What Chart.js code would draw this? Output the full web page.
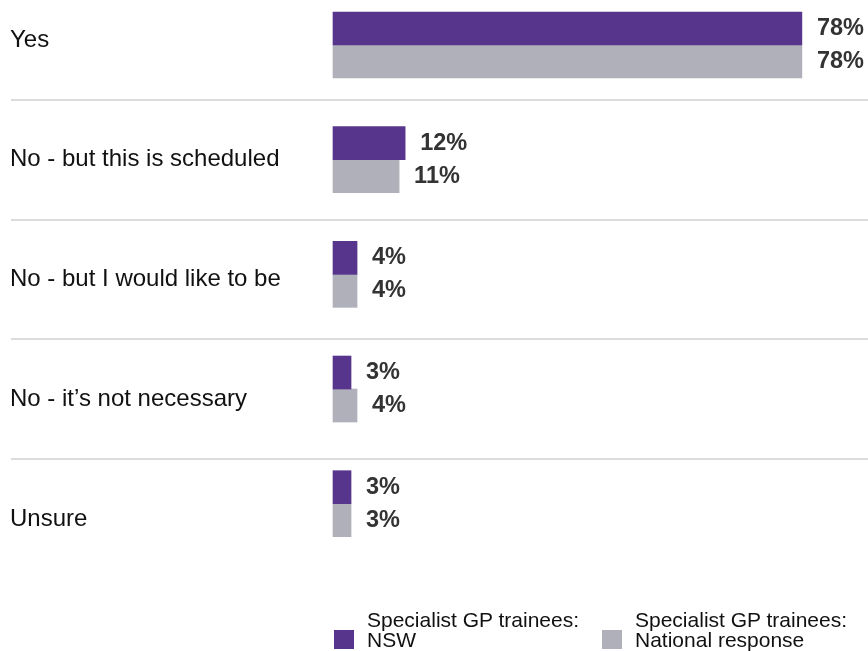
<!DOCTYPE html>
<html>
<head>
<meta charset="utf-8">
<script src="https://cdn.jsdelivr.net/npm/chart.js@4.4.1/dist/chart.umd.min.js"></script>
<style>
  body { margin: 0; background: #fff; }
  #wrap { position: relative; width: 868px; height: 651px; overflow: hidden; }
  #chart { position: absolute; left: 0; top: 0; }
  #legend { position: absolute; left: 334px; top: 610px; display: flex;
    font: 21px Arial, "Liberation Sans", sans-serif; line-height: 20px; color: #111; }
  .item { display: flex; align-items: flex-end; }
  .item:first-child { width: 268px; }
  .box { width: 20px; height: 19px; margin-right: 13px; margin-bottom: 1px; flex: none; }
</style>
</head>
<body>
<div id="wrap">
  <canvas id="chart" width="868" height="651"></canvas>
  <div id="legend"></div>
</div>
<script>
// answers + the two response groups
const categories = ['Yes', 'No - but this is scheduled', 'No - but I would like to be', 'No - it\u2019s not necessary', 'Unsure'];
const nswValues = [78, 12, 4, 3, 3];
const nationalValues = [78, 11, 4, 4, 3];
const seriesNames = [['Specialist GP trainees:', 'NSW'], ['Specialist GP trainees:', 'National response']];
const seriesColors = ['#58358c', '#b0b0bb'];

const FONT = 'Arial, "Liberation Sans", sans-serif';

// percent labels to the right of each bar
const valueLabels = {
  id: 'valueLabels',
  afterDatasetsDraw(chart) {
    const ctx = chart.ctx;
    ctx.save();
    ctx.font = 'bold 23.5px ' + FONT;
    ctx.fillStyle = '#333';
    ctx.textBaseline = 'middle';
    chart.data.datasets.forEach((ds, d) => {
      chart.getDatasetMeta(d).data.forEach((bar, i) => {
        ctx.fillText(ds.data[i].x + '%', bar.x + 15, bar.y);
      });
    });
    ctx.restore();
  }
};

const toPoints = (vals) => vals.map((v, i) => ({ x: v, y: i }));

const chart = new Chart(document.getElementById('chart'), {
  type: 'bar',
  data: {
    datasets: [
      { label: seriesNames[0].join(' '), data: toPoints(nswValues), backgroundColor: seriesColors[0] },
      { label: seriesNames[1].join(' '), data: toPoints(nationalValues), backgroundColor: seriesColors[1] }
    ]
  },
  options: {
    indexAxis: 'y',
    responsive: false,
    animation: false,
    clip: false,
    barThickness: 33,
    layout: { padding: { left: 10, right: 0, top: 40, bottom: 132 } },
    plugins: { legend: { display: false }, tooltip: { enabled: false } },
    scales: {
      x: { type: 'linear', min: 0, max: 89, display: false },
      // bars sit on their own axis, slightly tighter than the row labels
      y: { type: 'linear', reverse: true, offset: false, min: -0.0436, max: 4.1335, display: false },
      cat: {
        type: 'category',
        labels: categories,
        position: 'left',
        offset: false,
        grid: { offset: true, color: '#dcdcdc', lineWidth: 2, tickLength: 322, drawTicks: true },
        border: { display: false },
        ticks: { crossAlign: 'far', autoSkip: false, color: '#111', font: { family: FONT, size: 24 } },
        afterFit: (axis) => { axis.width = 323; }
      }
    }
  },
  plugins: [valueLabels]
});

// html legend, two-line labels with the swatch on the lower line
const legend = document.getElementById('legend');
seriesNames.forEach((name, i) => {
  const item = document.createElement('div');
  item.className = 'item';
  item.innerHTML = '<span class="box" style="background:' + seriesColors[i] + '"></span><span>' + name.join('<br>') + '</span>';
  legend.appendChild(item);
});
</script>
</body>
</html>
